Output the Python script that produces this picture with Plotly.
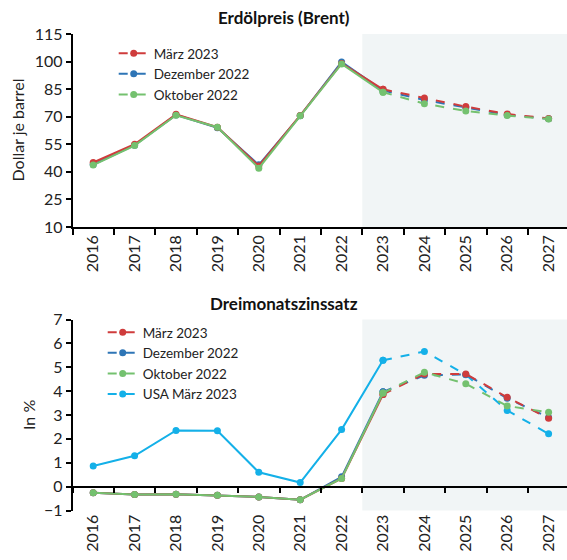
import plotly.graph_objects as go

years = [str(y) for y in range(2016, 2028)]
hist_end = 7  # index of 2023: solid up to here, dashed from here on

# Brent oil price, USD per barrel
brent_mar23 = [45.1, 55.0, 71.3, 64.3, 43.2, 70.7, 99.0, 84.9, 80.2, 75.5, 71.5, 69.0]
brent_dez22 = [44.0, 54.5, 71.0, 64.0, 43.8, 70.5, 99.8, 84.2, 79.1, 75.0, 71.0, 68.9]
brent_okt22 = [43.7, 54.3, 70.8, 64.3, 42.0, 70.5, 98.7, 83.3, 77.1, 73.1, 70.6, 68.8]

# Three-month interest rate, percent
rate_mar23 = [-0.26, -0.33, -0.32, -0.36, -0.43, -0.55, 0.34, 3.86, 4.72, 4.72, 3.74, 2.86]
rate_dez22 = [-0.26, -0.33, -0.32, -0.36, -0.43, -0.55, 0.41, 3.97, 4.66, 4.70, 3.70, 2.90]
rate_okt22 = [-0.26, -0.33, -0.32, -0.36, -0.43, -0.55, 0.34, 3.92, 4.79, 4.31, 3.38, 3.11]
rate_usa = [0.86, 1.29, 2.35, 2.34, 0.60, 0.17, 2.39, 5.29, 5.66, 4.69, 3.19, 2.21]

names = ["März 2023", "Dezember 2022", "Oktober 2022", "USA März 2023"]
colors = ["#CF3C3C", "#2E75B6", "#74C16F", "#14B0E8"]

FONT = "Lato"
TXT = "#222222"
xpos = list(range(len(years)))

fig = go.Figure()


def add_series(vals, name, color, xa, ya, legend, order):
    # solid history part
    fig.add_trace(go.Scatter(
        x=xpos[:hist_end + 1], y=vals[:hist_end + 1], xaxis=xa, yaxis=ya,
        mode="lines+markers", line=dict(color=color, width=2),
        marker=dict(size=7, color=color), name=name, legendgroup=name + ya,
        showlegend=False, hoverinfo="skip"))
    # dashed projection part
    fig.add_trace(go.Scatter(
        x=xpos[hist_end:], y=vals[hist_end:], xaxis=xa, yaxis=ya,
        mode="lines+markers", line=dict(color=color, width=2, dash="dash"),
        marker=dict(size=7, color=color), name=name, legendgroup=name + ya,
        legend=legend, legendrank=order, showlegend=True))


# draw order: later on top
add_series(brent_dez22, names[1], colors[1], "x", "y", "legend", 2)
add_series(brent_mar23, names[0], colors[0], "x", "y", "legend", 1)
add_series(brent_okt22, names[2], colors[2], "x", "y", "legend", 3)

add_series(rate_usa, names[3], colors[3], "x2", "y2", "legend2", 4)
add_series(rate_dez22, names[1], colors[1], "x2", "y2", "legend2", 2)
add_series(rate_mar23, names[0], colors[0], "x2", "y2", "legend2", 1)
add_series(rate_okt22, names[2], colors[2], "x2", "y2", "legend2", 3)

# dummy trace so the zero-line axis of the lower panel is rendered
fig.add_trace(go.Scatter(x=[0], y=[0], xaxis="x3", yaxis="y2", mode="markers",
                         marker=dict(opacity=0), showlegend=False, hoverinfo="skip"))

W, H = 567, 560
left = 72.5 / W
xr = [-0.5, -0.5 + (W - 72.5) / 41.4]

top_dom = [1 - 227 / H, 1 - 34 / H]
bot_dom = [1 - 510.5 / H, 1 - 319.5 / H]
bot_range = [-1, 7]
zero_pos = bot_dom[0] + (0 - bot_range[0]) / (bot_range[1] - bot_range[0]) * (bot_dom[1] - bot_dom[0])

tickfont = dict(family=FONT, size=16, color=TXT)
boundaries = [i - 0.5 for i in range(len(years) + 1)]

xcommon = dict(range=xr, tickmode="array", tickvals=xpos, ticktext=years,
               tickangle=-90, tickfont=tickfont, ticks="", showgrid=False,
               zeroline=False, automargin=False)
ycommon = dict(showline=True, linecolor="black", linewidth=1.5, ticks="outside",
               ticklen=5, tickcolor="black", tickwidth=1.5, showgrid=False,
               zeroline=False, automargin=False,
               tickfont=dict(family=FONT, size=16, color=TXT))
minor_ticks = dict(tickmode="array", tickvals=boundaries, ticks="outside",
                   ticklen=6, tickcolor="black", tickwidth=1.5)
legend_style = dict(xanchor="left", yanchor="top", bgcolor="rgba(0,0,0,0)",
                    font=dict(family=FONT, size=13.5, color=TXT), tracegroupgap=0)
title_font = dict(family=FONT, size=17, color="#111111")
axis_title_font = dict(family=FONT, size=16, color=TXT)

fig.update_layout(
    width=W, height=H, margin=dict(l=0, r=0, t=0, b=0, autoexpand=False),
    paper_bgcolor="white", plot_bgcolor="white",
    font=dict(family=FONT, color=TXT),
    showlegend=True,
    xaxis=dict(domain=[left, 1], anchor="y", showline=True, linecolor="black",
               linewidth=1.5, minor=minor_ticks, **xcommon),
    yaxis=dict(domain=top_dom, range=[10, 115], tick0=10, dtick=15, **ycommon),
    xaxis2=dict(domain=[left, 1], anchor="y2", showline=False, **xcommon),
    xaxis3=dict(domain=[left, 1], anchor="free", position=zero_pos, overlaying="x2",
                range=xr, showline=True, linecolor="black", linewidth=1.5,
                showticklabels=False, showgrid=False, zeroline=False, ticks="",
                automargin=False, minor=minor_ticks),
    yaxis2=dict(domain=bot_dom, range=bot_range, dtick=1, **ycommon),
    legend=dict(x=113.7 / W, y=1 - 38 / H, **legend_style),
    legend2=dict(x=102.7 / W, y=1 - 317 / H, **legend_style),
    annotations=[
        dict(text="<b>Erdölpreis (Brent)</b>", x=0.5, y=1 - 17 / H, xref="paper",
             yref="paper", yanchor="middle", showarrow=False, font=title_font),
        dict(text="<b>Dreimonatszinssatz</b>", x=0.5, y=1 - 303 / H, xref="paper",
             yref="paper", yanchor="middle", showarrow=False, font=title_font),
        dict(text="Dollar je barrel", textangle=-90, x=17 / W, y=sum(top_dom) / 2,
             xref="paper", yref="paper", xanchor="center", yanchor="middle",
             showarrow=False, font=axis_title_font),
        dict(text="In %", textangle=-90, x=28 / W, y=sum(bot_dom) / 2,
             xref="paper", yref="paper", xanchor="center", yanchor="middle",
             showarrow=False, font=axis_title_font),
    ],
    shapes=[
        dict(type="rect", xref="x", yref="y domain", x0=6.5, x1=xr[1], y0=0, y1=1,
             fillcolor="#F1F5F6", line=dict(width=0), layer="below"),
        dict(type="rect", xref="x2", yref="y2 domain", x0=6.5, x1=xr[1], y0=0, y1=1,
             fillcolor="#F1F5F6", line=dict(width=0), layer="below"),
    ],
)

fig.write_html("out.html")
